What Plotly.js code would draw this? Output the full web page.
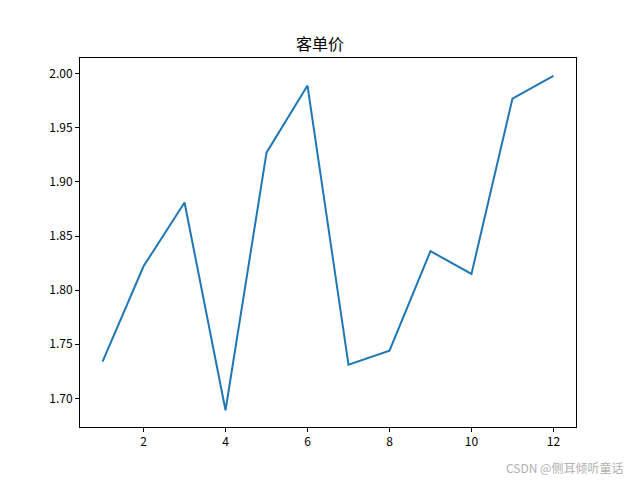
<!DOCTYPE html>
<html>
<head>
<meta charset="utf-8">
<script src="https://cdn.plot.ly/plotly-3.0.1.min.js"></script>
<style>html,body{margin:0;padding:0;background:#fff;}#chart{width:640px;height:480px;}</style>
</head>
<body>
<div id="chart"></div>
<script>
const months = [1, 2, 3, 4, 5, 6, 7, 8, 9, 10, 11, 12];
const avgPrice = [1.734, 1.822, 1.881, 1.689, 1.927, 1.989, 1.731, 1.744, 1.836, 1.815, 1.977, 1.998];
const xTicks = [2, 4, 6, 8, 10, 12];
const yTicks = [1.70, 1.75, 1.80, 1.85, 1.90, 1.95, 2.00];
const chartTitle = '客单价';
const watermark = 'CSDN @侧耳倾听童话';

const fontFam = '"Noto Sans CJK SC", "DejaVu Sans", sans-serif';

const trace = {
  x: months,
  y: avgPrice,
  type: 'scatter',
  mode: 'lines',
  line: {color: '#1f77b4', width: 2},
  hoverinfo: 'none'
};

const layout = {
  width: 640,
  height: 480,
  margin: {l: 80, r: 64, t: 58, b: 53},
  paper_bgcolor: '#ffffff',
  plot_bgcolor: '#ffffff',
  showlegend: false,
  font: {family: fontFam, color: '#000000', size: 12},
  title: {
    text: chartTitle,
    font: {family: fontFam, size: 16, color: '#000000'},
    x: 0.5, xanchor: 'center',
    y: 1 - 44/480, yanchor: 'middle'
  },
  xaxis: {
    range: [0.45, 12.55],
    tickvals: xTicks,
    ticktext: xTicks.map(String),
    showgrid: false, zeroline: false,
    showline: true, linecolor: '#000', linewidth: 1, mirror: true,
    ticks: 'outside', ticklen: 4, tickwidth: 1, tickcolor: '#000',
    tickfont: {family: fontFam, size: 12, color: '#000'}
  },
  yaxis: {
    range: [1.6735, 2.0145],
    tickvals: yTicks,
    ticktext: yTicks.map(v => v.toFixed(2)),
    showgrid: false, zeroline: false,
    showline: true, linecolor: '#000', linewidth: 1, mirror: true,
    ticks: 'outside', ticklen: 4, tickwidth: 1, tickcolor: '#000',
    tickfont: {family: fontFam, size: 12, color: '#000'}
  },
  annotations: [{
    text: watermark,
    xref: 'paper', yref: 'paper',
    x: 1 + 49/496, y: -40/369,
    xanchor: 'right', yanchor: 'middle',
    showarrow: false,
    font: {family: fontFam, size: 12, color: '#b0b0b0'}
  }]
};

Plotly.newPlot('chart', [trace], layout, {staticPlot: true, displayModeBar: false});
</script>
</body>
</html>
